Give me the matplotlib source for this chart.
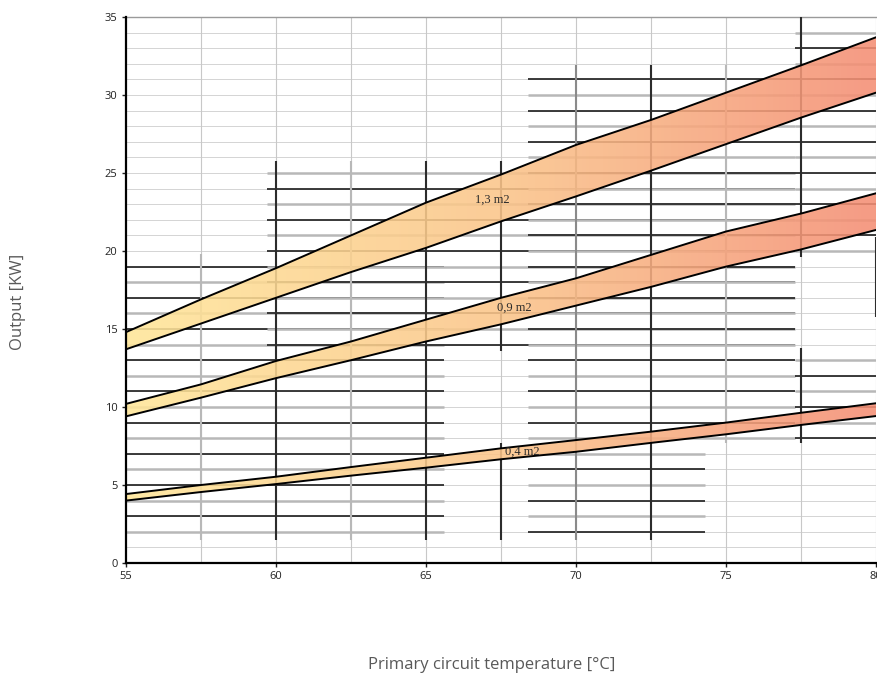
import numpy as np
import matplotlib
matplotlib.use('Agg')
import matplotlib.pyplot as plt
from matplotlib.colors import LinearSegmentedColormap
from matplotlib.patches import Polygon

# ---------------- data ----------------
temps = [55, 57.5, 60, 62.5, 65, 67.5, 70, 72.5, 75, 77.5, 80]
a13_upper = [14.8, 16.9, 18.9, 21.0, 23.1, 24.9, 26.8, 28.4, 30.15, 31.9, 33.7]
a13_lower = [13.7, 15.35, 17.0, 18.65, 20.2, 21.9, 23.5, 25.15, 26.85, 28.55, 30.15]
a09_upper = [10.2, 11.45, 12.95, 14.2, 15.6, 17.0, 18.25, 19.75, 21.25, 22.4, 23.7]
a09_lower = [9.4, 10.6, 11.85, 13.0, 14.2, 15.3, 16.5, 17.7, 19.0, 20.1, 21.35]
a04_upper = [4.42, 5.0, 5.53, 6.15, 6.75, 7.35, 7.88, 8.42, 9.0, 9.63, 10.24]
a04_lower = [4.0, 4.55, 5.06, 5.6, 6.11, 6.65, 7.13, 7.7, 8.25, 8.85, 9.42]
band_labels = ["1,3 m2", "0,9 m2", "0,4 m2"]
x_ticks = [55, 60, 65, 70, 75, 80]
y_ticks = [0, 5, 10, 15, 20, 25, 30, 35]
x_label = "Primary circuit temperature [°C]"
y_label = "Output [KW]"

# ---------------- figure ----------------
fig = plt.figure(figsize=(8.77, 6.75), dpi=100)
ax = fig.add_axes([126/877, 1-563/675, (876-126)/877, (563-17)/675])
ax.set_xlim(55, 80)
ax.set_ylim(0, 35)

DARK = '#2c2c2c'
LIGHT = '#b8b8b8'
THIN = '#d4d4d4'

# background thin grid
for y in range(1, 35):
    ax.plot([55, 80], [y, y], color=THIN, lw=0.7, zorder=1)
for x in np.arange(57.5, 80.1, 2.5):
    ax.plot([x, x], [0, 35], color='#c8c8c8', lw=0.8, zorder=1)
ax.plot([55, 80], [35, 35], color='#9a9a9a', lw=1.0, zorder=1, clip_on=False)

# overlaid (scanned) grid blocks: (x0, x1, y0, y1, dark_parity)
blocks = [
    (55, 65.6, 1.5, 19.8, 1),
    (59.7, 77.3, 13.6, 25.8, 0),
    (68.4, 77.3, 7.7, 31.9, 1),
    (68.4, 74.3, 1.5, 7.7, 0),
    (77.3, 80, 7.7, 13.8, 0),
    (77.3, 80, 19.6, 35, 1),
]
for x0, x1, y0, y1, par in blocks:
    for y in range(int(np.ceil(y0)), int(np.floor(y1)) + 1):
        if y0 < y < y1:
            dark = (y % 2 == par)
            ax.plot([x0, x1], [y, y], color=DARK if dark else LIGHT,
                    lw=1.3 if dark else 1.8, zorder=1.5, solid_capstyle='butt')

verticals = [
    (57.5, 1.5, 19.8, LIGHT), (60, 1.5, 25.8, DARK), (62.5, 1.5, 25.8, LIGHT),
    (65, 1.5, 25.8, DARK), (67.5, 13.6, 25.8, DARK), (67.5, 1.5, 7.7, DARK),
    (70, 1.5, 31.9, '#8a8a8a'), (72.5, 1.5, 31.9, DARK), (75, 7.7, 31.9, LIGHT),
    (77.5, 19.6, 35, DARK), (77.5, 7.7, 13.8, DARK), (80, 15.8, 20.9, DARK),
]
for x, y0, y1, c in verticals:
    ax.plot([x, x], [y0, y1], color=c, lw=1.5, zorder=1.6, solid_capstyle='butt')

# gradient bands
cmap = LinearSegmentedColormap.from_list('band', ['#FFE699', '#FBC58A', '#F48E74'])
grad = np.linspace(0, 1, 256).reshape(1, -1)
bands = [(a13_upper, a13_lower), (a09_upper, a09_lower), (a04_upper, a04_lower)]
for up, lo in bands:
    verts = list(zip(temps, up)) + list(zip(temps[::-1], lo[::-1]))
    poly = Polygon(verts, closed=True, facecolor='none', edgecolor='none')
    ax.add_patch(poly)
    im = ax.imshow(grad, extent=[55, 80, 0, 35], aspect='auto', cmap=cmap,
                   alpha=0.88, zorder=2, interpolation='bilinear')
    im.set_clip_path(poly)
    ax.plot(temps, up, color='black', lw=1.4, zorder=3)
    ax.plot(temps, lo, color='black', lw=1.4, zorder=3)

ax.set_xlim(55, 80)
ax.set_ylim(0, 35)

label_pos = [(67.2, 23.3), (67.95, 16.35), (68.2, 7.15)]
for txt, (lx, ly) in zip(band_labels, label_pos):
    ax.text(lx, ly, txt, fontsize=9, family='Liberation Serif', color='#2a2a2a',
            ha='center', va='center', zorder=4)

# axes styling
for s in ['top', 'right']:
    ax.spines[s].set_visible(False)
ax.spines['left'].set_linewidth(1.6)
ax.spines['bottom'].set_linewidth(1.6)
ax.spines['left'].set_zorder(5)
ax.spines['bottom'].set_zorder(5)
ax.set_xticks(x_ticks)
ax.set_yticks(y_ticks)
ax.tick_params(axis='both', length=3, width=1, labelsize=8, colors='#222222', pad=3)
for lab in ax.get_xticklabels() + ax.get_yticklabels():
    lab.set_family('Open Sans')

fig.text(492/877, 1-665/675, x_label, ha='center', va='center', fontsize=12,
         color='#595959', family='Open Sans')
fig.text(18/877, 1-302/675, y_label, ha='center', va='center', fontsize=12,
         color='#595959', family='Open Sans', rotation=90)

fig.savefig('out.png', dpi=100)
